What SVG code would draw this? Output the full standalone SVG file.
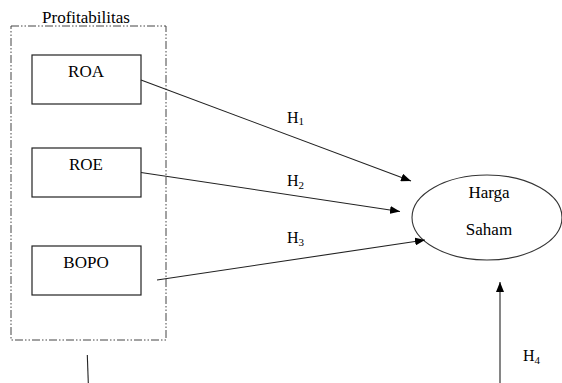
<svg xmlns="http://www.w3.org/2000/svg" width="562" height="383" viewBox="0 0 562 383">
<style>
.box{fill:#fff;stroke:#222;stroke-width:1.2;}
.lbl{font-size:17px;text-anchor:middle;}
.h{font-size:16px;}
.sub{font-size:11px;}
.c{stroke:#222;stroke-width:1.1;fill:none;}
</style>
<defs>
<marker id="ah" viewBox="0 0 10 8" refX="10" refY="4" markerWidth="10" markerHeight="8" markerUnits="userSpaceOnUse" orient="auto">
<path d="M0,0 L10,4 L0,8 Z" fill="#000"/>
</marker>
</defs>
<g font-family="'Liberation Serif', 'DejaVu Serif', serif" fill="#000">
<g id="group-profitabilitas">
<rect x="11" y="26" width="155" height="314" fill="none" stroke="#444" stroke-width="1" stroke-dasharray="8 2 1.5 2 1.5 2"/>
<text x="86" y="23" font-size="17" text-anchor="middle">Profitabilitas</text>
</g>
<g id="node-roa"><rect class="box" x="32" y="55" width="109" height="49"/><text class="lbl" x="86" y="77">ROA</text></g>
<g id="node-roe"><rect class="box" x="32" y="148" width="109" height="49"/><text class="lbl" x="86" y="170">ROE</text></g>
<g id="node-bopo"><rect class="box" x="32" y="246" width="109" height="49"/><text class="lbl" x="86" y="268">BOPO</text></g>
<g id="node-harga-saham">
<ellipse cx="487" cy="217.5" rx="75" ry="42.5" fill="#fff" stroke="#333" stroke-width="1.1"/>
<text class="lbl" x="489" y="198">Harga</text>
<text class="lbl" x="489" y="235">Saham</text>
</g>
<g id="connectors">
<line class="c" x1="141" y1="80" x2="411" y2="181" marker-end="url(#ah)"/>
<line class="c" x1="141" y1="172.5" x2="400" y2="211.5" marker-end="url(#ah)"/>
<line class="c" x1="157" y1="280" x2="425" y2="240" marker-end="url(#ah)"/>
<line class="c" x1="500" y1="383" x2="500" y2="282" marker-end="url(#ah)"/>
<line class="c" x1="87.3" y1="355" x2="88.3" y2="383"/>
<text class="h" x="287" y="122.5">H<tspan class="sub" dy="2.5">1</tspan></text>
<text class="h" x="287" y="186">H<tspan class="sub" dy="2.5">2</tspan></text>
<text class="h" x="287" y="243">H<tspan class="sub" dy="2.5">3</tspan></text>
<text class="h" x="523" y="361">H<tspan class="sub" dy="2.5">4</tspan></text>
</g>
</g>
</svg>
